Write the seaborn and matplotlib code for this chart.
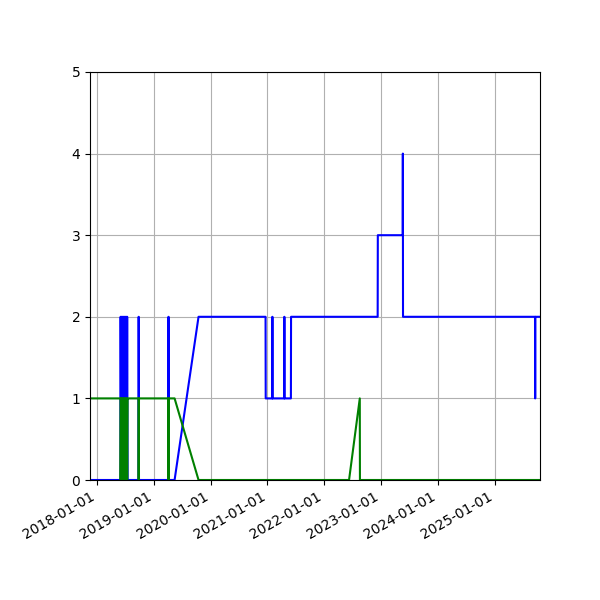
import matplotlib
matplotlib.use("Agg")
import matplotlib.pyplot as plt
import matplotlib.dates as mdates
import pandas as pd
import seaborn as sns

dates = ["2017-11-17", "2018-06-01", "2018-06-02", "2018-06-05", "2018-06-08", "2018-06-11",
         "2018-06-14", "2018-06-17", "2018-06-20", "2018-06-23", "2018-06-26", "2018-06-29",
         "2018-07-02", "2018-07-05", "2018-07-08", "2018-07-11", "2018-07-14", "2018-07-17",
         "2018-07-20", "2018-09-25", "2018-09-26", "2018-09-28", "2019-04-05", "2019-04-06",
         "2019-04-07", "2019-05-15", "2019-10-16", "2020-12-20", "2020-12-21", "2021-02-01",
         "2021-02-02", "2021-02-03", "2021-04-19", "2021-04-20", "2021-04-21", "2021-06-01",
         "2021-06-02", "2022-06-10", "2022-08-18", "2022-08-19", "2022-12-11", "2022-12-12",
         "2023-05-21", "2023-05-22", "2023-05-23", "2025-09-18", "2025-09-19", "2025-09-20",
         "2025-10-20"]
blue = [0, 0, 2, 0, 2, 0, 2, 0, 2, 0, 2, 0, 2, 0, 2, 0, 2, 0, 0, 0, 2, 0, 0, 2, 0, 0, 2,
        2, 1, 1, 2, 1, 1, 2, 1, 1, 2, 2, 2, 2, 2, 3, 3, 4, 2, 2, 1, 2, 2]
green = [1, 1, 0, 1, 0, 1, 0, 1, 0, 1, 0, 1, 0, 1, 0, 1, 0, 1, 1, 1, 0, 1, 1, 0, 1, 1, 0,
         0, 0, 0, 0, 0, 0, 0, 0, 0, 0, 0, 1, 0, 0, 0, 0, 0, 0, 0, 0, 0, 0]

df = pd.DataFrame({"date": pd.to_datetime(dates), "blue": blue, "green": green})

fig = plt.figure(figsize=(6, 6), dpi=100)
ax = fig.add_axes([0.15, 0.2, 0.75, 0.68])
sns.lineplot(data=df, x="date", y="blue", color="blue", estimator=None, sort=False, ax=ax)
sns.lineplot(data=df, x="date", y="green", color="green", estimator=None, sort=False, ax=ax)
ax.set_xlim(df["date"].min(), df["date"].max())
ax.set_ylim(0, 5)
ax.set_xlabel("")
ax.set_ylabel("")
ax.grid(True)
ax.xaxis.set_major_locator(mdates.YearLocator())
ax.xaxis.set_major_formatter(mdates.DateFormatter("%Y-%m-%d"))
plt.setp(ax.get_xticklabels(), rotation=30, ha="right")
fig.savefig("out.png", dpi=100)
